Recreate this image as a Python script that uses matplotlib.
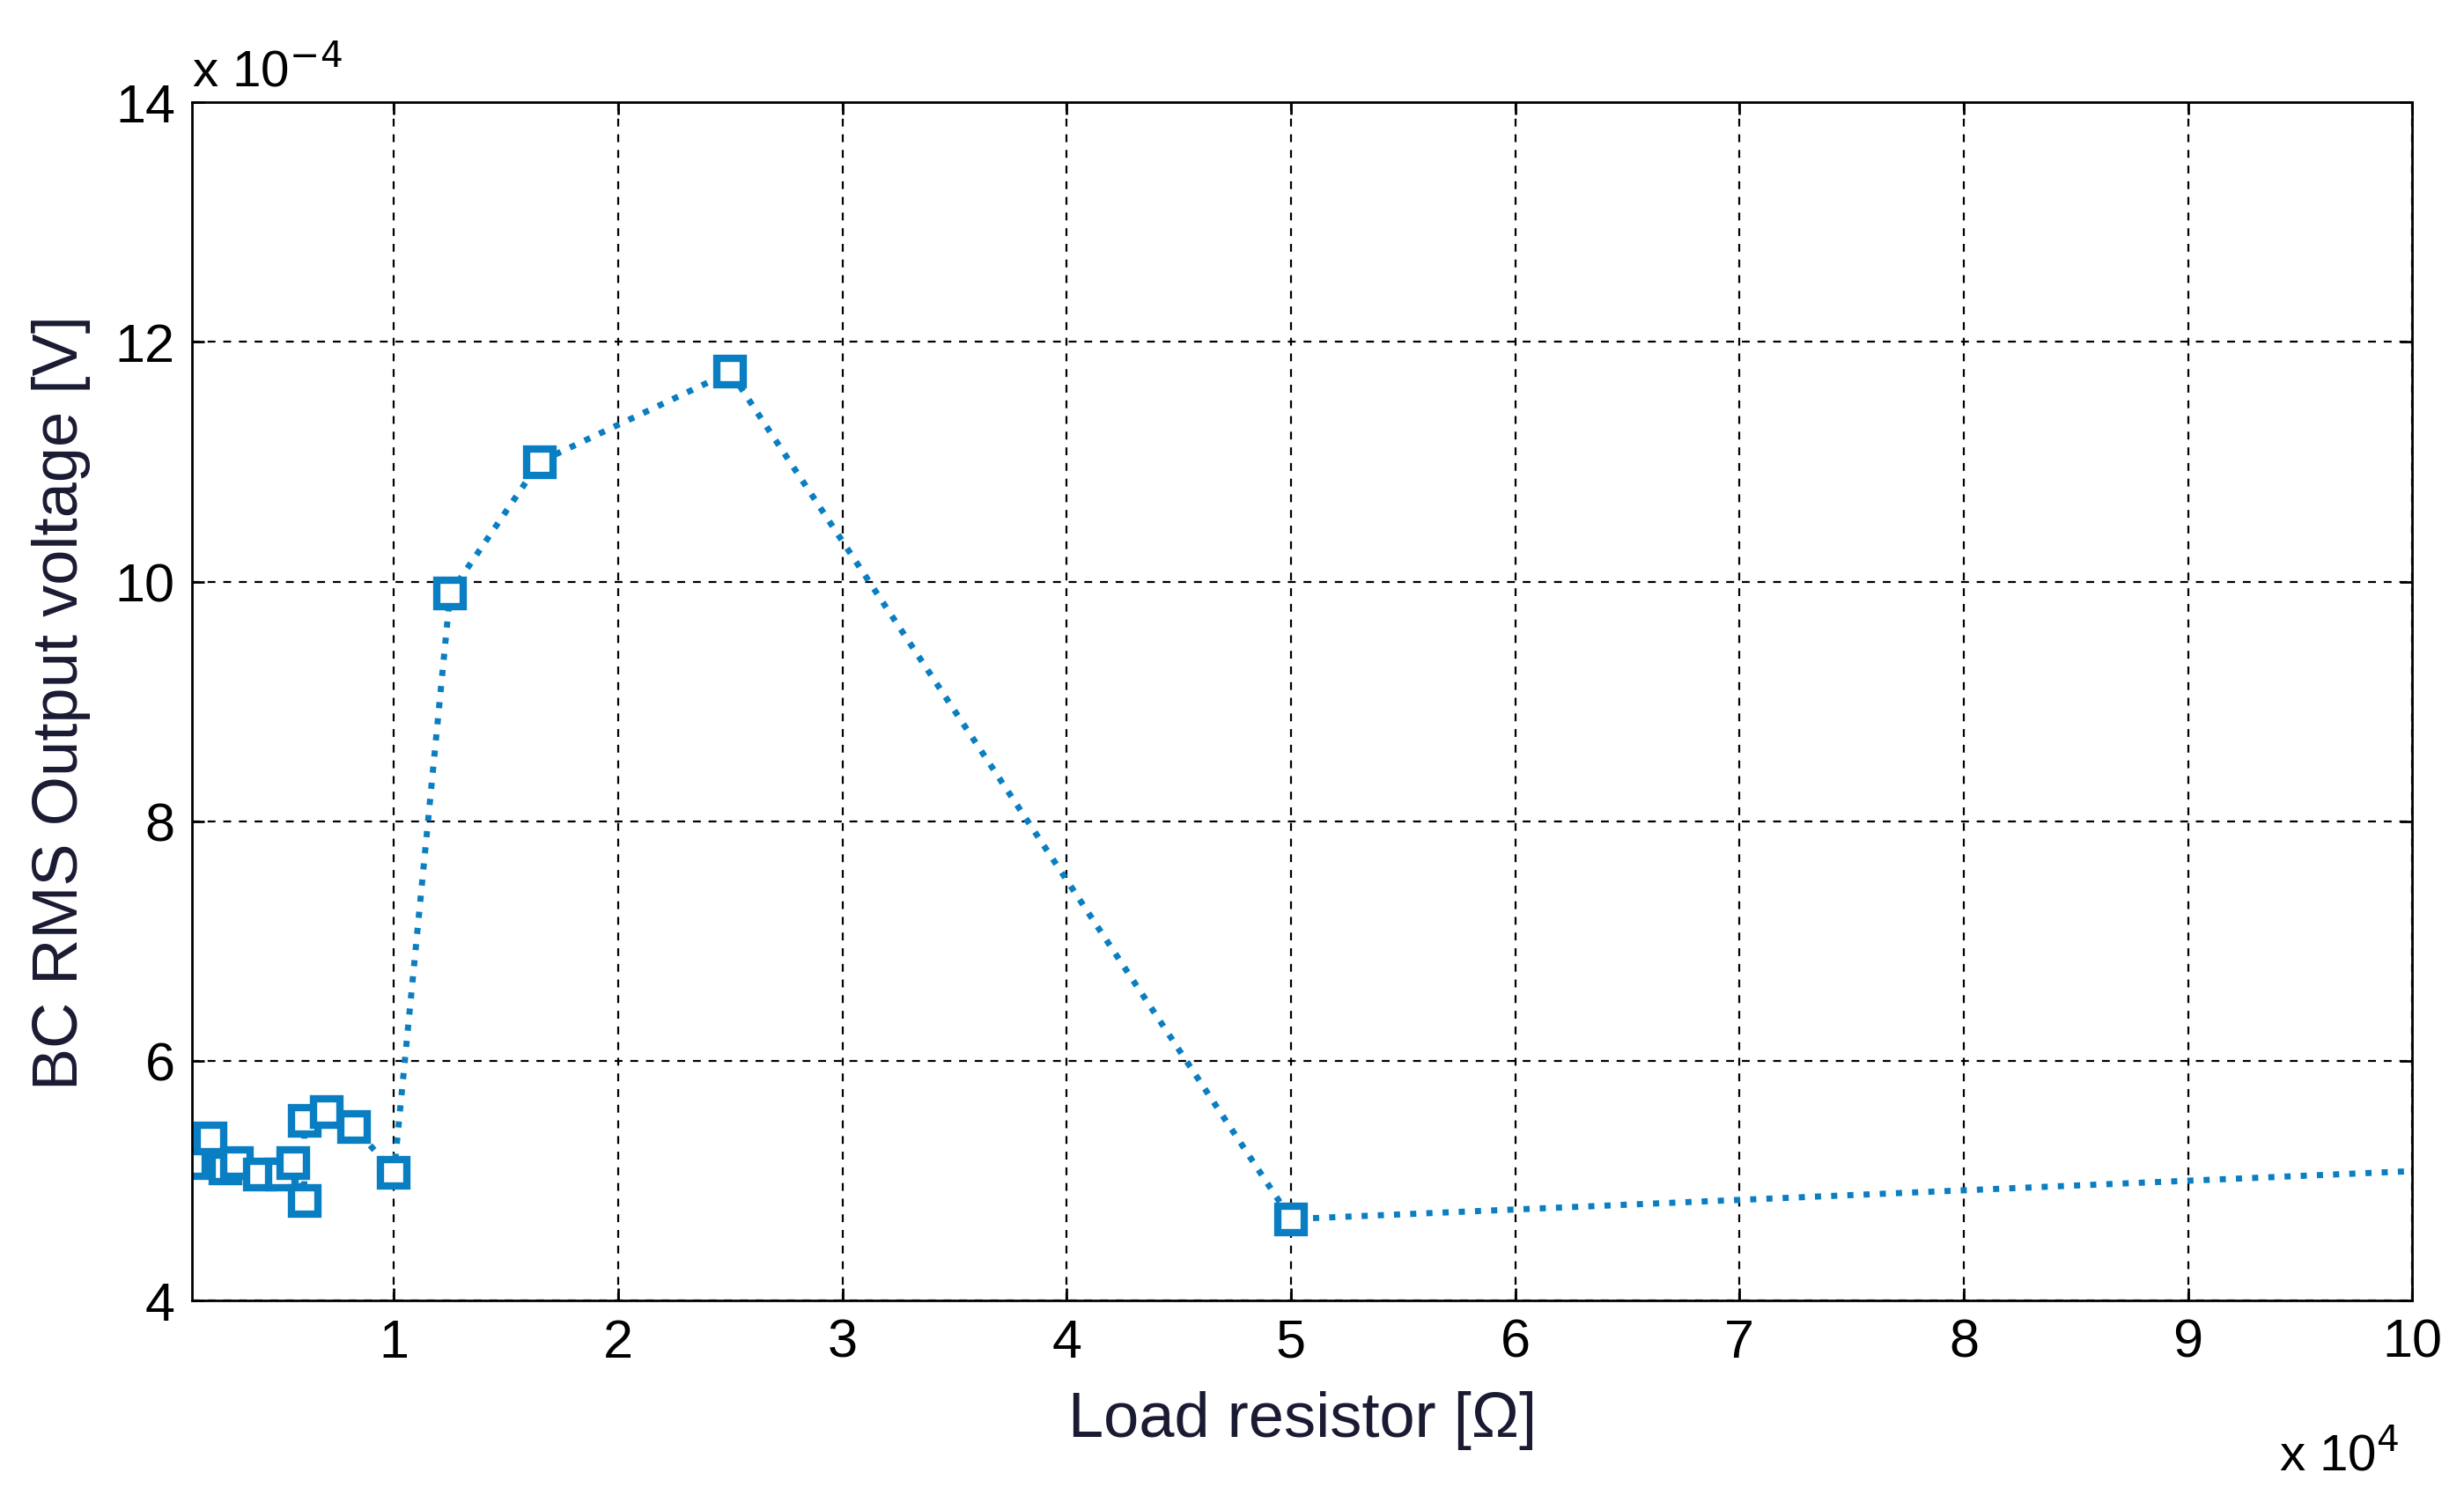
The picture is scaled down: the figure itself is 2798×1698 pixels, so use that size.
import matplotlib
matplotlib.use("Agg")
import matplotlib.pyplot as plt

load_ohm = [1000, 1800, 2500, 3000, 4000, 5000, 5500, 6000, 6000, 7000, 8200, 10000, 12500, 16500, 25000, 50000, 100000]
vrms = [5.15e-4, 5.35e-4, 5.1e-4, 5.15e-4, 5.05e-4, 5.05e-4, 5.15e-4, 4.83e-4, 5.5e-4, 5.57e-4, 5.45e-4, 5.07e-4, 9.9e-4, 11.0e-4, 11.75e-4, 4.68e-4, 5.08e-4]
xticks = list(range(1, 11))
yticks = [4, 6, 8, 10, 12, 14]

plt.rcParams['font.family'] = ['Liberation Sans', 'DejaVu Sans']
fig = plt.figure(figsize=(27.98, 16.99), dpi=100)
ax = fig.add_axes([0.078, 0.130, 0.901, 0.801])
x = [v / 1e4 for v in load_ohm]
y = [v / 1e-4 for v in vrms]
c = '#0a7ec2'
ax.plot(x, y, linestyle=':', color=c, lw=5, marker='s', ms=22, mfc='white', mec=c, mew=6,
        markevery=list(range(len(x) - 1)))
ax.set_xlim(0.1, 10)
ax.set_ylim(4, 14)
ax.set_xticks(xticks)
ax.set_yticks(yticks)
ax.tick_params(labelsize=44, direction='in', length=10, width=2, pad=14, top=True, right=True)
ax.grid(True, linestyle=(0, (4, 4)), color='black', lw=1.6)
for s in ax.spines.values():
    s.set_linewidth(2)
ax.set_xlabel('Load resistor [Ω]', fontsize=52, color='#1a1a33', labelpad=18)
ax.set_ylabel('BC RMS Output voltage [V]', fontsize=52, color='#1a1a33', labelpad=20)
fig.text(0.078, 0.935, r'x 10$^{-4}$', fontsize=42, ha='left', va='bottom')
fig.text(0.925, 0.01, r'x 10$^{4}$', fontsize=42, ha='left', va='bottom')
fig.savefig('out.png', dpi=100)
